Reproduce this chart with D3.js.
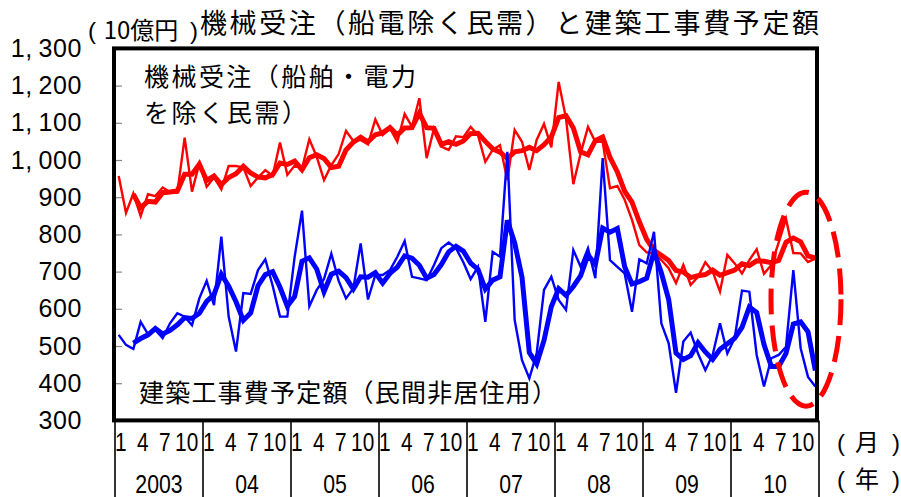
<!DOCTYPE html>
<html><head><meta charset="utf-8">
<script src="https://cdn.jsdelivr.net/npm/d3@7"></script>
<style>body{margin:0;background:#fff}svg{display:block}</style>
</head><body>
<svg id="c" width="901" height="497"></svg>
<script>
// ---- data (10億円), monthly Jan 2003 – Dec 2010 ----
const years = ["2003","04","05","06","07","08","09","10"];
const monthLabels = [1,4,7,10];
const yTicks = [300,400,500,600,700,800,900,1000,1100,1200,1300];

const machineryMonthly = [
 957,858,910,849,908,903,926,914,912,1060,915,991,
 928,953,921,984,984,980,930,953,973,957,1047,960,
 985,978,1056,1009,946,986,1016,1078,1051,1054,1042,1109,
 1067,1085,1049,1124,1089,1166,1005,1085,1036,1027,1064,1061,
 1089,1067,995,1027,1040,946,1081,1049,973,1054,1097,1034,
 1210,1112,935,1018,1089,1049,1049,924,930,893,839,771,
 752,749,731,709,669,718,664,686,725,700,646,745,
 722,695,731,760,694,718,778,842,750,749,726,735];
const machineryAvg = [
 null,null,908,872,889,887,912,914,917,962,962,989,
 945,957,934,953,963,983,965,954,952,961,992,988,
 997,974,1006,1014,1004,980,983,1027,1048,1061,1049,1068,
 1073,1087,1067,1086,1087,1126,1087,1085,1042,1049,1042,1051,
 1071,1072,1050,1030,1021,1004,1022,1025,1034,1025,1041,1062,
 1114,1119,1086,1022,1014,1052,1062,1007,968,916,887,834,
 787,757,744,730,703,699,684,689,692,704,690,697,
 704,721,716,729,728,724,730,779,790,780,742,737];
const constructionMonthly = [
 530,503,492,565,532,543,521,561,588,579,556,628,
 675,610,794,579,485,642,640,704,733,662,579,579,
 740,864,607,650,680,748,675,628,655,776,625,691,
 691,704,740,782,686,682,677,718,763,778,763,725,
 680,713,565,753,740,1022,570,462,413,480,651,686,
 624,597,758,713,763,682,1005,731,713,695,592,733,
 722,807,561,507,374,512,536,480,435,476,561,480,
 521,649,646,476,391,467,476,498,704,494,417,391];
const constructionAvg = [
 null,null,508,520,530,547,532,542,557,576,574,588,
 620,638,693,661,619,569,589,662,692,700,658,607,
 633,728,737,707,646,693,701,684,653,686,685,697,
 669,695,712,742,736,717,682,692,719,753,768,755,
 723,706,653,677,686,838,777,685,482,452,515,606,
 654,636,660,689,745,719,817,806,816,713,667,673,
 682,754,697,625,481,464,474,509,484,464,491,506,
 521,550,605,590,504,445,445,480,559,565,538,434];

// ---- layout ----
const svg = d3.select("#c");
const L = 115, R = 819, T = 48.4, B = 420.4;
const months = d3.range(years.length * 12);
const x = d3.scaleBand().domain(months).range([L, R]);
const cx = i => x(i) + x.bandwidth() / 2;
const y = d3.scaleLinear().domain([300, 1300]).range([B, T]);
const jp = "'Noto Sans CJK JP','Noto Sans',sans-serif";
const num = "'Liberation Sans',Arial,sans-serif";

// y axis
const fmt = d3.format(",");
const ya = svg.append("g").attr("transform", `translate(${L},0)`)
  .call(d3.axisLeft(y).tickValues(yTicks).tickFormat(v => fmt(v).replace(",", ",\u2009"))
    .tickSizeInner(-7).tickSizeOuter(0).tickPadding(33));
ya.select(".domain").remove();
ya.selectAll(".tick line").attr("stroke", "#888").attr("stroke-width", 1.2);
ya.selectAll(".tick text").attr("font-family", num).attr("font-size", 25)
  .attr("fill", "#000").attr("letter-spacing", 0.6);

// lines
const line = d3.line().defined(d => d != null).x((d, i) => cx(i)).y(d => y(d));
const g = svg.append("g");
g.append("path").datum(machineryMonthly).attr("d", line)
  .attr("fill", "none").attr("stroke", "#ff0000").attr("stroke-width", 2.4);
g.append("path").datum(machineryAvg).attr("d", line)
  .attr("fill", "none").attr("stroke", "#ff0000").attr("stroke-width", 5);
g.append("path").datum(constructionMonthly).attr("d", line)
  .attr("fill", "none").attr("stroke", "#0000ff").attr("stroke-width", 2.4);
g.append("path").datum(constructionAvg).attr("d", line)
  .attr("fill", "none").attr("stroke", "#0000ff").attr("stroke-width", 5);

// frame
svg.append("rect").attr("x", L - 1).attr("y", T).attr("width", R - L - 1).attr("height", B - T)
  .attr("fill", "none").attr("stroke", "#000").attr("stroke-width", 4);

// dashed ellipse highlighting latest months
svg.append("ellipse").attr("cx", cx(94) - 2).attr("cy", y(626)).attr("rx", 35).attr("ry", 107)
  .attr("fill", "none").attr("stroke", "#ff0000").attr("stroke-width", 5)
  .attr("stroke-dasharray", "26,11");

// x axis (two-level)
const yearW = 12 * x.step();
const bx = svg.append("g");
bx.selectAll("line.sep").data(d3.range(years.length + 1)).join("line")
  .attr("x1", k => L + k * yearW).attr("x2", k => L + k * yearW)
  .attr("y1", B).attr("y2", 497).attr("stroke", "#000").attr("stroke-width", 1.6);
const mt = [];
years.forEach((yr, k) => monthLabels.forEach(m => mt.push(k * 12 + m - 1)));
bx.selectAll("text.m").data(mt).join("text")
  .attr("transform", i => `translate(${cx(i) + 2},451) scale(0.8,1)`)
  .attr("text-anchor", "middle").attr("font-family", num).attr("font-size", 26)
  .text(i => monthLabels[(i % 12) / 3]);
bx.selectAll("text.y").data(years).join("text")
  .attr("transform", (d, k) => `translate(${L + (k + 0.5) * yearW},493) scale(0.85,1)`)
  .attr("text-anchor", "middle").attr("font-family", num).attr("font-size", 25)
  .text(d => d);

// bracketed unit labels: parens placed separately to keep the wide spacing
function bracket(x0, x1, xm, yb, inner, size) {
  svg.append("text").attr("x", x0).attr("y", yb).attr("font-family", num).attr("font-size", size).text("(");
  svg.append("text").attr("x", xm).attr("y", yb).attr("text-anchor", "middle")
    .attr("font-family", jp).attr("font-size", size).text(inner);
  svg.append("text").attr("x", x1).attr("y", yb).attr("text-anchor", "end")
    .attr("font-family", num).attr("font-size", size).text(")");
}
bracket(837, 900, 867, 451, "月", 24);
bracket(837, 900, 867, 488, "年", 24);
bracket(88, 198, 141, 39, "10億円", 24);

// title
svg.append("text").attr("x", 200).attr("y", 33).attr("font-family", jp).attr("font-size", 27)
  .attr("textLength", 619).attr("lengthAdjust", "spacing").text("機械受注（船電除く民需）と建築工事費予定額");

// series labels
svg.append("text").attr("x", 144).attr("y", 86).attr("font-family", jp).attr("font-size", 25)
  .attr("textLength", 272).attr("lengthAdjust", "spacing").text("機械受注（船舶・電力");
svg.append("text").attr("x", 144).attr("y", 122).attr("font-family", jp).attr("font-size", 25)
  .attr("textLength", 163).attr("lengthAdjust", "spacing").text("を除く民需）");
svg.append("text").attr("x", 139).attr("y", 402).attr("font-family", jp).attr("font-size", 25)
  .attr("textLength", 418).attr("lengthAdjust", "spacing").text("建築工事費予定額（民間非居住用）");
</script>
</body></html>
